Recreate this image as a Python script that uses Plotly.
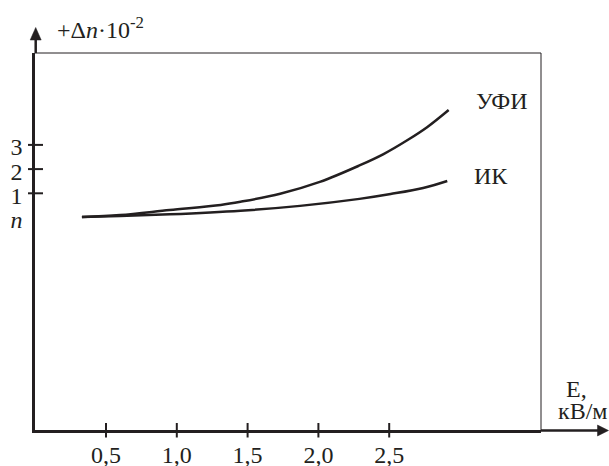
import plotly.graph_objects as go

# ---- data ----
e_ufi = [0.33, 0.60, 0.95, 1.31, 1.45, 1.73, 2.01, 2.29, 2.46, 2.63, 2.77, 2.92]
dn_ufi = [0.02, 0.10, 0.31, 0.52, 0.65, 0.98, 1.47, 2.15, 2.62, 3.20, 3.74, 4.44]
e_ik = [0.33, 0.60, 0.95, 1.45, 1.87, 2.29, 2.51, 2.74, 2.91]
dn_ik = [0.02, 0.06, 0.13, 0.28, 0.48, 0.77, 0.97, 1.22, 1.51]
x_ticks = [0.5, 1.0, 1.5, 2.0, 2.5]
x_tick_text = ["0,5", "1,0", "1,5", "2,0", "2,5"]
y_ticks = [0, 1, 2, 3]
y_tick_text = ["<i>n</i>", "1", "2", "3"]
y_marked = [1, 2, 3]

W, H = 609, 466
L, R, T, B = 35, 68, 53, 36
PW, PH = W - L - R, H - T - B
INK = "#231f20"
FONT = "Liberation Serif"


def px(x):
    return (x - L) / PW


def py(y):
    return (H - B - y) / PH


fig = go.Figure()
fig.add_trace(go.Scatter(x=e_ufi, y=dn_ufi, mode="lines",
                         line=dict(color=INK, width=2.5, shape="spline", smoothing=1.0),
                         showlegend=False, hoverinfo="skip"))
fig.add_trace(go.Scatter(x=e_ik, y=dn_ik, mode="lines",
                         line=dict(color=INK, width=2.5, shape="spline", smoothing=1.0),
                         showlegend=False, hoverinfo="skip"))

shapes = []
# box top and right (thin)
shapes.append(dict(type="line", xref="paper", yref="paper", x0=0, x1=1, y0=1, y1=1,
                   line=dict(color=INK, width=1)))
shapes.append(dict(type="line", xref="paper", yref="paper", x0=1, x1=1, y0=0, y1=1,
                   line=dict(color=INK, width=1)))
# axis extensions
shapes.append(dict(type="line", xref="paper", yref="paper", x0=1, x1=px(600), y0=py(430.5), y1=py(430.5),
                   line=dict(color=INK, width=2.5)))
shapes.append(dict(type="line", xref="paper", yref="paper", x0=px(35.7), x1=px(35.7), y0=1, y1=py(38),
                   line=dict(color=INK, width=2.5)))
# arrow heads
shapes.append(dict(type="path", xref="paper", yref="paper",
                   path=f"M {px(608.5)} {py(430.5)} L {px(597.5)} {py(425)} L {px(597.5)} {py(436)} Z",
                   fillcolor=INK, line=dict(color=INK, width=0.5)))
shapes.append(dict(type="path", xref="paper", yref="paper",
                   path=f"M {px(35.7)} {py(27.5)} L {px(30.2)} {py(40)} L {px(41.2)} {py(40)} Z",
                   fillcolor=INK, line=dict(color=INK, width=0.5)))
# tick marks crossing the axes
for v in x_ticks:
    shapes.append(dict(type="line", xref="x", yref="paper", x0=v, x1=v, y0=py(423), y1=py(437.5),
                       line=dict(color=INK, width=2)))
for v in y_marked:
    shapes.append(dict(type="line", xref="paper", yref="y", x0=px(28), x1=px(43), y0=v, y1=v,
                       line=dict(color=INK, width=2)))

ann = []
def add_text(text, x, y, size=24, xanchor="center"):
    ann.append(dict(text=text, xref="paper", yref="paper", x=px(x), y=py(y),
                    xanchor=xanchor, yanchor="middle", showarrow=False,
                    font=dict(family=FONT, size=size, color=INK)))

add_text("+Δ<i>n</i>·10<sup>-2</sup>", 55, 28, size=24, xanchor="left")
add_text("УФИ", 474, 101, xanchor="left")
add_text("ИК", 472, 176, xanchor="left")
add_text("E,", 564, 389, xanchor="left")
add_text("кВ/м", 556, 411, xanchor="left")

fig.update_layout(
    width=W, height=H,
    margin=dict(l=L, r=R, t=T, b=B, pad=0, autoexpand=False),
    paper_bgcolor="white", plot_bgcolor="white",
    shapes=shapes, annotations=ann,
    xaxis=dict(range=[(L - 35.2) / 141.6, (W - R - 35.2) / 141.6],
               tickvals=x_ticks, ticktext=x_tick_text, ticks="",
               ticklabelstandoff=1, automargin=False,
               showgrid=False, zeroline=False, showline=True, linecolor=INK, linewidth=2.5,
               tickfont=dict(family=FONT, size=24, color=INK), fixedrange=True),
    yaxis=dict(range=[(217.5 - (H - B)) / 24.2, (217.5 - T) / 24.2],
               tickvals=y_ticks, ticktext=y_tick_text, ticks="",
               ticklabelstandoff=5, ticklabelshift=2, automargin=False,
               showgrid=False, zeroline=False, showline=True, linecolor=INK, linewidth=2.5,
               tickfont=dict(family=FONT, size=24, color=INK), fixedrange=True),
)

fig.write_html("out.html", config={"displayModeBar": False},
               post_script="document.body.style.margin='0';document.body.style.overflow='hidden';")
